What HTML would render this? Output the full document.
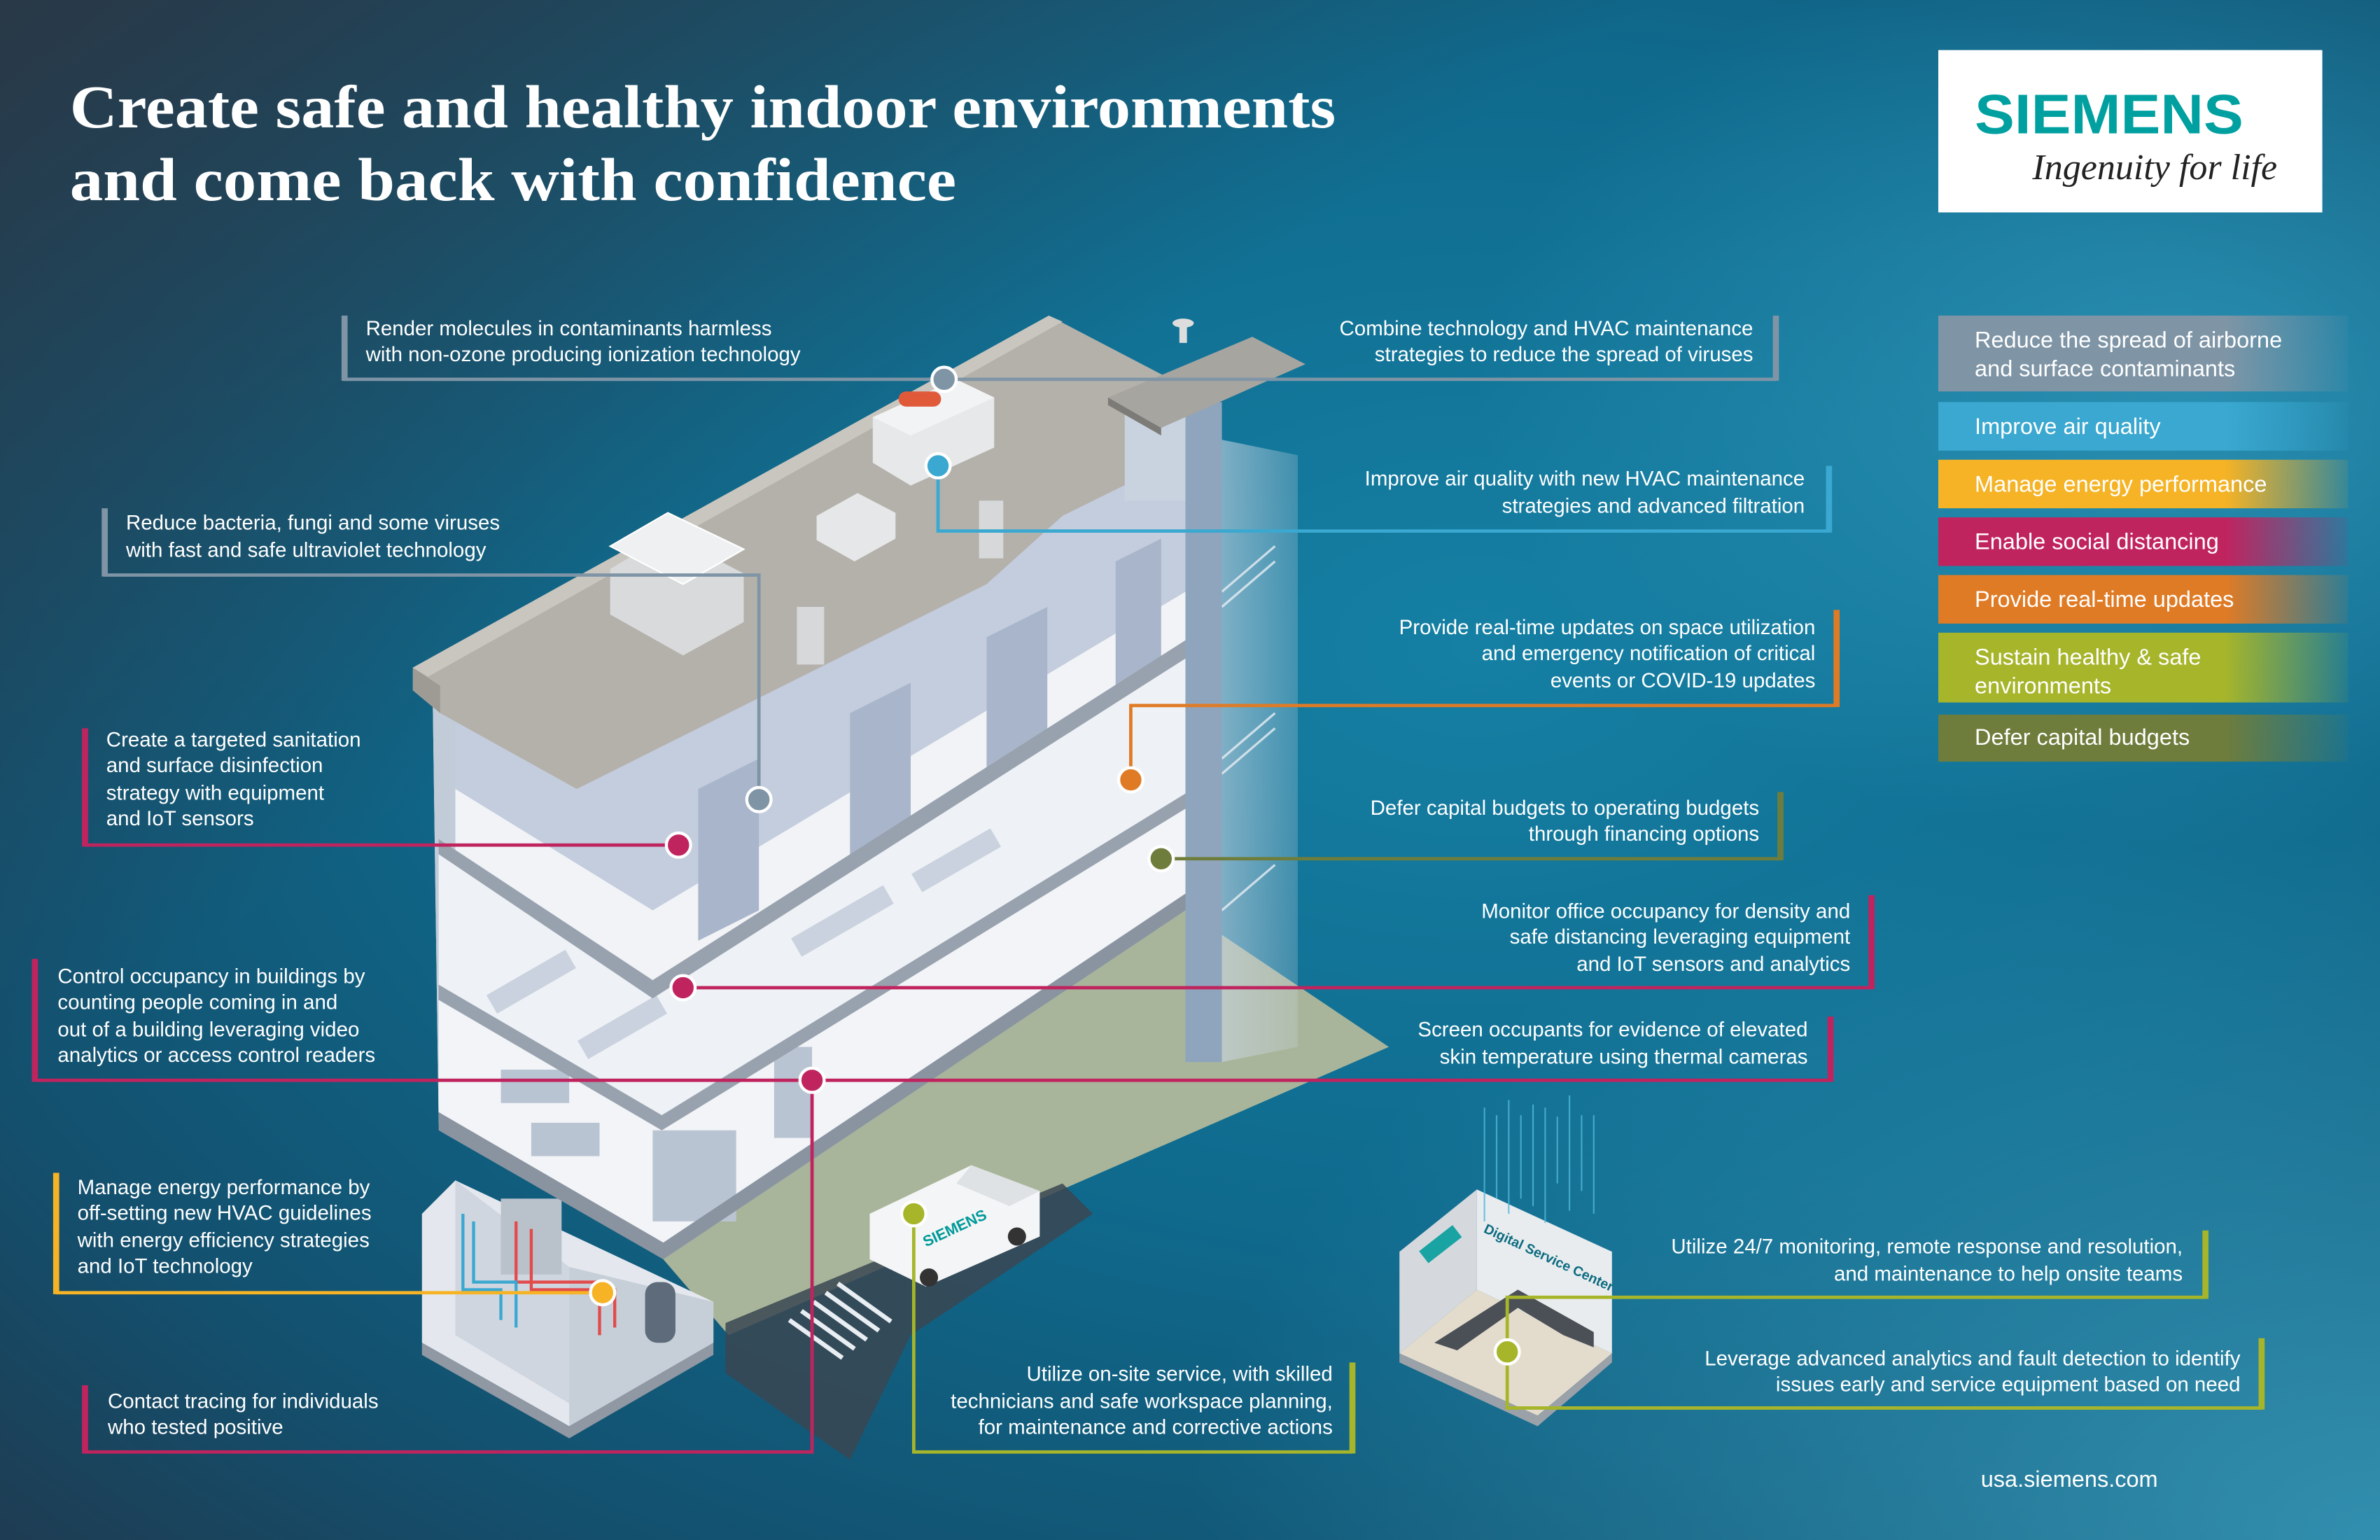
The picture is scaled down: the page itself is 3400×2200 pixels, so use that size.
<!DOCTYPE html>
<html><head><meta charset="utf-8"><style>
html,body{margin:0;padding:0;width:3400px;height:2200px;overflow:hidden;background:#0d5f80}
svg{display:block}
text{font-family:"Liberation Sans",sans-serif;fill:#fff}
.c{font-size:13.6px}
.l{font-size:15px}
</style></head><body>
<svg width="3400" height="2200" viewBox="0 0 1568 1015" preserveAspectRatio="none" xmlns="http://www.w3.org/2000/svg">
<defs>
<radialGradient id="bg" cx="0.62" cy="0.42" r="0.85">
<stop offset="0" stop-color="#1580a4"/><stop offset="0.45" stop-color="#0f6a8d"/><stop offset="0.8" stop-color="#13506e"/><stop offset="1" stop-color="#1e3c52"/>
</radialGradient>
<linearGradient id="tl" x1="0" y1="0" x2="1" y2="1"><stop offset="0" stop-color="#2b3744" stop-opacity="0.9"/><stop offset="0.35" stop-color="#2b3744" stop-opacity="0"/></linearGradient>
<radialGradient id="br" cx="1" cy="1" r="0.5"><stop offset="0" stop-color="#3a9fbf" stop-opacity="0.8"/><stop offset="1" stop-color="#3a9fbf" stop-opacity="0"/></radialGradient>
<radialGradient id="rg" cx="0.92" cy="0.25" r="0.3"><stop offset="0" stop-color="#3ba6c8" stop-opacity="0.6"/><stop offset="1" stop-color="#3ba6c8" stop-opacity="0"/></radialGradient>
<linearGradient id="g1" x1="0" x2="1"><stop offset="0.7" stop-color="#7f95a6"/><stop offset="1" stop-color="#7f95a6" stop-opacity="0.1"/></linearGradient>
<linearGradient id="g2" x1="0" x2="1"><stop offset="0.7" stop-color="#3aa8d0"/><stop offset="1" stop-color="#3aa8d0" stop-opacity="0.1"/></linearGradient>
<linearGradient id="g3" x1="0" x2="1"><stop offset="0.7" stop-color="#f5b325"/><stop offset="1" stop-color="#f5b325" stop-opacity="0.1"/></linearGradient>
<linearGradient id="g4" x1="0" x2="1"><stop offset="0.7" stop-color="#c0245f"/><stop offset="1" stop-color="#c0245f" stop-opacity="0.1"/></linearGradient>
<linearGradient id="g5" x1="0" x2="1"><stop offset="0.7" stop-color="#e07b25"/><stop offset="1" stop-color="#e07b25" stop-opacity="0.1"/></linearGradient>
<linearGradient id="g6" x1="0" x2="1"><stop offset="0.7" stop-color="#a6b52a"/><stop offset="1" stop-color="#a6b52a" stop-opacity="0.1"/></linearGradient>
<linearGradient id="g7" x1="0" x2="1"><stop offset="0.7" stop-color="#6e7d3c"/><stop offset="1" stop-color="#6e7d3c" stop-opacity="0.1"/></linearGradient>
<linearGradient id="stair" x1="0" x2="1"><stop offset="0" stop-color="#c9d6e3" stop-opacity="0.75"/><stop offset="1" stop-color="#c9d6e3" stop-opacity="0.25"/></linearGradient>
</defs>
<rect width="1568" height="1015" fill="url(#bg)"/>
<rect width="1568" height="1015" fill="url(#tl)"/>
<rect width="1568" height="1015" fill="url(#br)"/>
<rect width="1568" height="1015" fill="url(#rg)"/>

<!-- title -->
<text x="46" y="84" textLength="834" lengthAdjust="spacingAndGlyphs" style="font-family:'Liberation Serif',serif;font-size:40px;font-weight:bold">Create safe and healthy indoor environments</text>
<text x="46" y="132" textLength="584" lengthAdjust="spacingAndGlyphs" style="font-family:'Liberation Serif',serif;font-size:40px;font-weight:bold">and come back with confidence</text>

<!-- logo -->
<rect x="1277" y="33" width="253" height="107" fill="#fff"/>
<text x="1301" y="88" textLength="177" lengthAdjust="spacingAndGlyphs" style="font-size:37px;font-weight:bold;fill:#00a0a0">SIEMENS</text>
<text x="1339" y="118" style="font-family:'Liberation Serif',serif;font-style:italic;font-size:24px;fill:#222">Ingenuity for life</text>

<!-- legend -->
<rect x="1277" y="208" width="270" height="50" fill="url(#g1)"/>
<text x="1301" y="229" class="l">Reduce the spread of airborne</text><text x="1301" y="248" class="l">and surface contaminants</text>
<rect x="1277" y="265" width="270" height="32" fill="url(#g2)"/><text x="1301" y="286" class="l">Improve air quality</text>
<rect x="1277" y="303" width="270" height="32" fill="url(#g3)"/><text x="1301" y="324" class="l">Manage energy performance</text>
<rect x="1277" y="341" width="270" height="32" fill="url(#g4)"/><text x="1301" y="362" class="l">Enable social distancing</text>
<rect x="1277" y="379" width="270" height="32" fill="url(#g5)"/><text x="1301" y="400" class="l">Provide real-time updates</text>
<rect x="1277" y="417" width="270" height="46" fill="url(#g6)"/><text x="1301" y="438" class="l">Sustain healthy &amp; safe</text><text x="1301" y="457" class="l">environments</text>
<rect x="1277" y="471" width="270" height="31" fill="url(#g7)"/><text x="1301" y="491" class="l">Defer capital budgets</text>

<!-- ground / road -->
<polygon points="437,830 781,600 915,690 480,880" fill="#a9b59a"/>
<polygon points="478,872 700,780 720,800 600,880 560,962 478,905" fill="#3a4752" opacity="0.85"/>
<g stroke="#e8eef2" stroke-width="3"><line x1="520" y1="870" x2="555" y2="895"/><line x1="528" y1="864" x2="563" y2="889"/><line x1="536" y1="858" x2="571" y2="883"/><line x1="544" y1="852" x2="579" y2="877"/><line x1="552" y1="846" x2="587" y2="871"/></g>

<!-- basement -->
<polygon points="278,800 300,778 470,858 470,885 375,940 278,885" fill="#e4e8ee"/>
<polygon points="300,778 300,880 375,925 375,835" fill="#d0d6df"/>
<polygon points="375,835 470,858 470,885 375,940" fill="#c6ced8"/>
<polygon points="278,885 375,940 470,885 470,893 375,948 278,893" fill="#8f98a3"/>
<rect x="330" y="790" width="40" height="50" fill="#b9c1cb"/>
<g stroke="#e34a4a" stroke-width="2" fill="none"><path d="M340 805 V845 H395 V880"/><path d="M350 810 V850 H405 V875"/></g>
<g stroke="#3aa8d0" stroke-width="2" fill="none"><path d="M305 800 V850 H330 V870"/><path d="M312 805 V845 H340 V875"/></g>
<rect x="425" y="845" width="20" height="40" rx="8" fill="#5d6b7a"/>

<!-- building mass -->
<polygon points="285,455 691,212 781,260 781,600 437,830 289,740" fill="#dfe4ec"/>
<polygon points="285,455 300,460 300,745 289,740" fill="#c2ccd9"/>
<!-- top floor walls -->
<polygon points="300,470 700,260 781,300 781,424 430,646 300,560" fill="#c3cddd"/>
<polygon points="300,520 430,600 781,390 781,424 430,646 300,560" fill="#f1f3f6"/>
<g fill="#a9b5ca"><polygon points="460,520 500,500 500,600 460,620"/><polygon points="560,470 600,450 600,545 560,565"/><polygon points="650,420 690,400 690,495 650,515"/><polygon points="735,370 765,355 765,445 735,460"/></g>
<!-- middle floor -->
<polygon points="289,563 430,656 781,434 781,523 436,735 289,649" fill="#eef1f5"/>
<g fill="#c9d2de"><rect x="320" y="640" width="60" height="14" transform="rotate(-30 350 647)"/><rect x="380" y="670" width="60" height="14" transform="rotate(-30 410 677)"/><rect x="520" y="600" width="70" height="14" transform="rotate(-30 555 607)"/><rect x="600" y="560" width="60" height="14" transform="rotate(-30 630 567)"/><rect x="580" y="650" width="80" height="14" transform="rotate(-30 620 657)"/></g>
<!-- ground floor -->
<polygon points="289,659 436,745 781,533 781,589 437,819 289,733" fill="#f2f4f7"/>
<g fill="#b9c4d3"><rect x="330" y="705" width="45" height="22"/><rect x="350" y="740" width="45" height="22"/><rect x="430" y="745" width="55" height="60"/><rect x="510" y="690" width="25" height="60"/></g>
<!-- slab edges -->
<polygon points="289,553 430,646 781,422 781,434 430,658 289,563" fill="#98a2ae"/>
<polygon points="289,649 436,735 781,523 781,533 436,745 289,659" fill="#98a2ae"/>
<polygon points="289,733 437,819 781,589 781,600 437,830 289,745" fill="#8a94a0"/>

<!-- roof -->
<polygon points="272,440 691,208 781,255 781,300 700,340 650,385 520,450 430,495 380,520 290,470 272,455" fill="#b4b1ab"/>
<polygon points="272,440 290,452 290,470 272,455" fill="#9e9b95"/>
<polygon points="272,440 691,208 700,212 282,446" fill="#c9c6c0"/>
<!-- rooftop equipment -->
<polygon points="575,275 630,250 655,262 655,295 600,320 575,305" fill="#e6e8ea"/>
<polygon points="575,275 630,250 655,262 600,287" fill="#f2f3f4"/>
<rect x="592" y="258" width="28" height="10" rx="5" fill="#e05a3a"/>
<polygon points="402,375 440,352 490,378 490,410 450,432 402,405" fill="#d8dadb"/>
<polygon points="402,360 440,338 490,362 450,385" fill="#eef0f1" stroke="#fff" stroke-width="1"/>
<polygon points="538,340 565,325 590,338 590,355 563,370 538,356" fill="#e6e7e8"/>
<rect x="525" y="400" width="18" height="38" fill="#d6d8da"/>
<rect x="645" y="330" width="16" height="38" fill="#d6d8da"/>

<!-- stair tower -->
<polygon points="781,285 855,300 855,690 805,700 781,600" fill="url(#stair)"/>
<g stroke="#e8eef4" stroke-width="1.5" opacity="0.8"><line x1="805" y1="390" x2="840" y2="360"/><line x1="805" y1="400" x2="840" y2="370"/><line x1="805" y1="500" x2="840" y2="470"/><line x1="805" y1="510" x2="840" y2="480"/><line x1="805" y1="600" x2="840" y2="570"/></g>
<rect x="781" y="265" width="24" height="435" fill="#8ea5bd"/>
<rect x="741" y="270" width="40" height="60" fill="#c9d3df"/>
<polygon points="730,262 825,222 860,240 765,282" fill="#a7a5a0"/>
<polygon points="730,262 765,282 765,287 730,267" fill="#7d7b77"/>
<rect x="777" y="212" width="5" height="14" fill="#ddd"/><ellipse cx="779.5" cy="213" rx="7" ry="3" fill="#ddd"/>

<!-- van -->
<polygon points="573,800 640,768 685,785 685,815 610,848 573,830" fill="#f4f5f6"/>
<polygon points="640,768 685,785 665,795 630,780" fill="#dfe2e5"/>
<circle cx="612" cy="842" r="6" fill="#333"/><circle cx="670" cy="815" r="6" fill="#333"/>
<text x="610" y="822" transform="rotate(-25 610 822)" style="font-size:10px;font-weight:bold;fill:#009999">SIEMENS</text>

<!-- digital service center -->
<polygon points="922,825 973,784 973,850 922,892" fill="#d5d9de"/>
<polygon points="973,784 1062,825 1062,892 973,850" fill="#e9ecef"/>
<polygon points="922,892 973,850 1062,892 1013,933" fill="#e3dccd"/>
<polygon points="922,892 1013,933 1062,892 1062,898 1013,940 922,898" fill="#9aa1a8"/>
<polygon points="945,885 1000,850 1050,878 1050,888 1030,880 1000,862 960,890" fill="#4b5057"/>
<rect x="935" y="815" width="28" height="10" fill="#1aa3a3" transform="rotate(-38 949 820)"/>
<text x="977" y="812" transform="rotate(25 977 812)" style="font-size:9px;font-weight:bold;fill:#0b6b80">Digital Service Center</text>
<g stroke="#4fb8d8" stroke-width="1" opacity="0.8"><line x1="978" y1="730" x2="978" y2="805"/><line x1="986" y1="735" x2="986" y2="790"/><line x1="994" y1="725" x2="994" y2="800"/><line x1="1002" y1="735" x2="1002" y2="790"/><line x1="1010" y1="728" x2="1010" y2="795"/><line x1="1018" y1="730" x2="1018" y2="806"/><line x1="1026" y1="736" x2="1026" y2="780"/><line x1="1034" y1="722" x2="1034" y2="798"/><line x1="1042" y1="735" x2="1042" y2="785"/><line x1="1050" y1="735" x2="1050" y2="800"/></g>

<!-- connectors -->
<g fill="none" stroke-width="2.2">
<path d="M226 250 H1170" stroke="#7f95a6"/>
<path d="M618 307 V350 H1205" stroke="#3aa8d0"/>
<path d="M69 379 H500 V527" stroke="#7f95a6"/>
<path d="M745 514 V465 H1210" stroke="#e07b25"/>
<path d="M56 557 H447" stroke="#c0245f"/>
<path d="M765 566 H1173" stroke="#6e7d3c"/>
<path d="M450 651 H1233" stroke="#c0245f"/>
<path d="M23 712 H1206" stroke="#c0245f"/>
<path d="M37 852 H397" stroke="#f5b325"/>
<path d="M535 712 V957 H56" stroke="#c0245f"/>
<path d="M602 800 V957 H891" stroke="#a6b52a"/>
<path d="M993 891 V855 H1453" stroke="#a6b52a"/>
<path d="M993 891 V928 H1490" stroke="#a6b52a"/>
</g>
<!-- bars -->
<g>
<rect x="225" y="208" width="4" height="43" fill="#7f95a6"/>
<rect x="1168" y="208" width="4" height="43" fill="#7f95a6"/>
<rect x="1203" y="307" width="4" height="44" fill="#3aa8d0"/>
<rect x="67" y="335" width="4" height="45" fill="#7f95a6"/>
<rect x="1208" y="402" width="4" height="64" fill="#e07b25"/>
<rect x="54" y="480" width="4" height="78" fill="#c0245f"/>
<rect x="1171" y="522" width="4" height="45" fill="#6e7d3c"/>
<rect x="1231" y="590" width="4" height="62" fill="#c0245f"/>
<rect x="21" y="632" width="4" height="81" fill="#c0245f"/>
<rect x="1204" y="670" width="4" height="43" fill="#c0245f"/>
<rect x="35" y="773" width="4" height="80" fill="#f5b325"/>
<rect x="54" y="913" width="4" height="45" fill="#c0245f"/>
<rect x="889" y="898" width="4" height="60" fill="#a6b52a"/>
<rect x="1451" y="811" width="4" height="45" fill="#a6b52a"/>
<rect x="1488" y="882" width="4" height="47" fill="#a6b52a"/>
</g>
<!-- dots -->
<g stroke="#fff" stroke-width="2">
<circle cx="622" cy="250" r="8" fill="#7f95a6"/>
<circle cx="618" cy="307" r="8" fill="#3aa8d0"/>
<circle cx="500" cy="527" r="8" fill="#7f95a6"/>
<circle cx="745" cy="514" r="8" fill="#e07b25"/>
<circle cx="447" cy="557" r="8" fill="#c0245f"/>
<circle cx="765" cy="566" r="8" fill="#6e7d3c"/>
<circle cx="450" cy="651" r="8" fill="#c0245f"/>
<circle cx="535" cy="712" r="8" fill="#c0245f"/>
<circle cx="397" cy="852" r="8" fill="#f5b325"/>
<circle cx="602" cy="800" r="8" fill="#a6b52a"/>
<circle cx="993" cy="891" r="8" fill="#a6b52a"/>
</g>

<!-- callout text -->
<g class="c">
<text x="241" y="221" class="c">Render molecules in contaminants harmless</text>
<text x="241" y="238" class="c">with non-ozone producing ionization technology</text>
<g text-anchor="end">
<text x="1155" y="221" class="c">Combine technology and HVAC maintenance</text>
<text x="1155" y="238" class="c">strategies to reduce the spread of viruses</text>
<text x="1189" y="320" class="c">Improve air quality with new HVAC maintenance</text>
<text x="1189" y="338" class="c">strategies and advanced filtration</text>
<text x="1196" y="418" class="c">Provide real-time updates on space utilization</text>
<text x="1196" y="435" class="c">and emergency notification of critical</text>
<text x="1196" y="453" class="c">events or COVID-19 updates</text>
<text x="1159" y="537" class="c">Defer capital budgets to operating budgets</text>
<text x="1159" y="554" class="c">through financing options</text>
<text x="1219" y="605" class="c">Monitor office occupancy for density and</text>
<text x="1219" y="622" class="c">safe distancing leveraging equipment</text>
<text x="1219" y="640" class="c">and IoT sensors and analytics</text>
<text x="1191" y="683" class="c">Screen occupants for evidence of elevated</text>
<text x="1191" y="701" class="c">skin temperature using thermal cameras</text>
<text x="1438" y="826" class="c">Utilize 24/7 monitoring, remote response and resolution,</text>
<text x="1438" y="844" class="c">and maintenance to help onsite teams</text>
<text x="1476" y="900" class="c">Leverage advanced analytics and fault detection to identify</text>
<text x="1476" y="917" class="c">issues early and service equipment based on need</text>
<text x="878" y="910" class="c">Utilize on-site service, with skilled</text>
<text x="878" y="928" class="c">technicians and safe workspace planning,</text>
<text x="878" y="945" class="c">for maintenance and corrective actions</text>
</g>
<text x="83" y="349" class="c">Reduce bacteria, fungi and some viruses</text>
<text x="83" y="367" class="c">with fast and safe ultraviolet technology</text>
<text x="70" y="492" class="c">Create a targeted sanitation</text>
<text x="70" y="509" class="c">and surface disinfection</text>
<text x="70" y="527" class="c">strategy with equipment</text>
<text x="70" y="544" class="c">and IoT sensors</text>
<text x="38" y="648" class="c">Control occupancy in buildings by</text>
<text x="38" y="665" class="c">counting people coming in and</text>
<text x="38" y="683" class="c">out of a building leveraging video</text>
<text x="38" y="700" class="c">analytics or access control readers</text>
<text x="51" y="787" class="c">Manage energy performance by</text>
<text x="51" y="804" class="c">off-setting new HVAC guidelines</text>
<text x="51" y="822" class="c">with energy efficiency strategies</text>
<text x="51" y="839" class="c">and IoT technology</text>
<text x="71" y="928" class="c">Contact tracing for individuals</text>
<text x="71" y="945" class="c">who tested positive</text>
</g>
<text x="1305" y="980" style="font-size:15px">usa.siemens.com</text>
</svg>
</body></html>
